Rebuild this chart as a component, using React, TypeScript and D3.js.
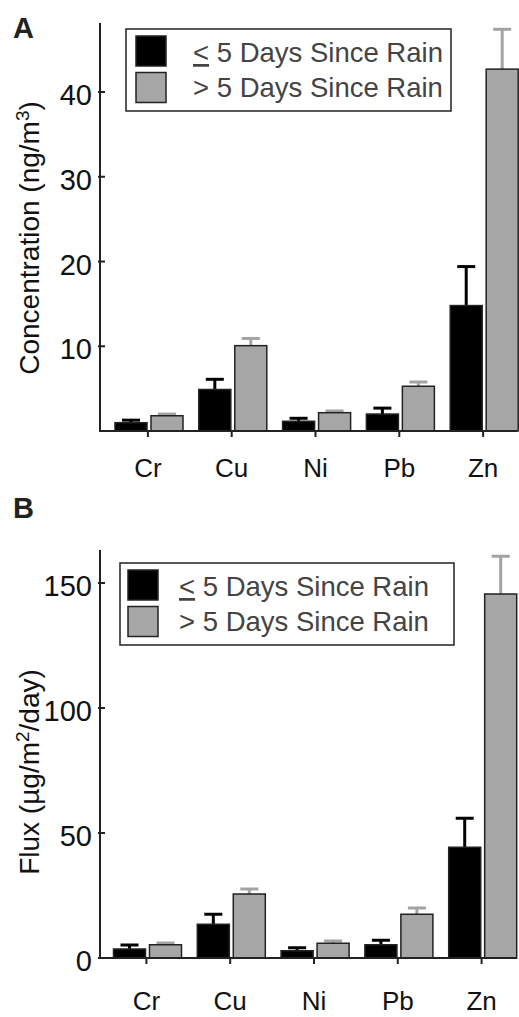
import * as d3 from "d3";

const categories = ["Cr", "Cu", "Ni", "Pb", "Zn"];
const seriesKeys = ["dry", "wet"];
const legendLabels = ["5 Days Since Rain", "> 5 Days Since Rain"];

// panel A: concentration (ng/m3)
const concDry = [0.98, 4.9, 1.15, 2.0, 14.8];
const concDryErr = [0.3, 1.2, 0.35, 0.7, 4.6];
const concWet = [1.8, 10.07, 2.16, 5.28, 42.7];
const concWetErr = [0.2, 0.85, 0.2, 0.5, 4.7];
const concTicks = [10, 20, 30, 40];

// panel B: flux (ug/m2/day)
const fluxDry = [3.6, 13.5, 2.9, 5.3, 44.3];
const fluxDryErr = [1.6, 4.0, 1.2, 1.8, 11.6];
const fluxWet = [5.3, 25.6, 5.9, 17.5, 145.6];
const fluxWetErr = [0.7, 2.0, 0.9, 2.5, 15.1];
const fluxTicks = [0, 50, 100, 150];

const FONT = "'Liberation Sans', Arial, sans-serif";
const colors = { dry: "#000000", wet: "#a6a6a6" };
const errColors = { dry: "#000000", wet: "#a3a3a3" };

function Panel({
  letter,
  letterY,
  dry,
  dryErr,
  wet,
  wetErr,
  yDomain,
  yRange,
  axisTop,
  ticks,
  xRange,
  yLabel,
  yLabelY,
  catLabelY,
  legend,
}) {
  const y = d3.scaleLinear(yDomain, yRange);
  const x = d3.scaleBand(categories, xRange);
  const inner = d3.scaleBand(seriesKeys, [9, 77]).paddingInner(0.11);
  const base = y(0);
  const axisX = 100;
  const xEnd = 517;
  const vals = { dry, wet };
  const errs = { dry: dryErr, wet: wetErr };

  return (
    <g>
      <text x={13} y={letterY} fontFamily={FONT} fontWeight="bold" fontSize={29} fill="#222">
        {letter}
      </text>

      {/* bars */}
      {seriesKeys.map((k) =>
        categories.map((c, i) => {
          const bx = x(c) + inner(k);
          const top = y(vals[k][i]);
          const cap = y(vals[k][i] + errs[k][i]);
          const cx = bx + inner.bandwidth() / 2;
          return (
            <g key={k + c}>
              <line x1={cx} x2={cx} y1={top} y2={cap} stroke={errColors[k]} strokeWidth={3} />
              <line x1={cx - 9} x2={cx + 9} y1={cap} y2={cap} stroke={errColors[k]} strokeWidth={3} />
              <rect
                x={bx}
                y={top}
                width={inner.bandwidth()}
                height={base - top}
                fill={colors[k]}
                stroke="#222"
                strokeWidth={1.5}
              />
            </g>
          );
        })
      )}

      {/* y axis */}
      <line x1={axisX} x2={axisX} y1={axisTop} y2={base + 1} stroke="#222" strokeWidth={2} />
      {ticks.map((t) => (
        <g key={t}>
          <line x1={axisX - 2} x2={axisX + 5} y1={y(t)} y2={y(t)} stroke="#222" strokeWidth={2} />
          <text
            x={axisX - 8}
            y={y(t) + 13}
            textAnchor="end"
            fontFamily={FONT}
            fontSize={29}
            fill="#111"
          >
            {t}
          </text>
        </g>
      ))}

      {/* x axis */}
      <line x1={axisX} x2={xEnd} y1={base} y2={base} stroke="#222" strokeWidth={2} />
      {categories.map((c) => {
        const cx = x(c) + x.bandwidth() / 2;
        return (
          <g key={c}>
            <line x1={cx} x2={cx} y1={base} y2={base + 6} stroke="#222" strokeWidth={2} />
            <text x={cx} y={catLabelY} textAnchor="middle" fontFamily={FONT} fontSize={26} fill="#111">
              {c}
            </text>
          </g>
        );
      })}

      {/* y label */}
      <text
        transform={`translate(39,${yLabelY}) rotate(-90)`}
        textAnchor="middle"
        fontFamily={FONT}
        fontSize={28}
        fill="#111"
      >
        {yLabel}
      </text>

      {/* legend */}
      <rect
        x={legend.x}
        y={legend.y}
        width={legend.w}
        height={legend.h}
        fill="#fff"
        stroke="#222"
        strokeWidth={1.5}
      />
      {seriesKeys.map((k, i) => (
        <g key={k}>
          <rect
            x={legend.sx}
            y={legend.y + 7 + i * 36.5}
            width={30}
            height={30}
            fill={colors[k]}
            stroke="#222"
            strokeWidth={1.5}
          />
          <text
            x={legend.tx}
            y={legend.y + 33 + i * 35}
            fontFamily={FONT}
            fontSize={27.5}
            fill="#444"
          >
            {i === 0 ? (
              <>
                <tspan textDecoration="underline">{"<"}</tspan>
                {" " + legendLabels[0]}
              </>
            ) : (
              legendLabels[1]
            )}
          </text>
        </g>
      ))}
    </g>
  );
}

export default function App() {
  return (
    <svg
      width={519}
      height={1017}
      style={{ position: "absolute", left: 0, top: 0, background: "#fff" }}
    >
      <rect width={519} height={1017} fill="#fff" />
      <Panel
        letter="A"
        letterY={38}
        dry={concDry}
        dryErr={concDryErr}
        wet={concWet}
        wetErr={concWetErr}
        yDomain={[0, 40]}
        yRange={[431, 92]}
        axisTop={23}
        ticks={concTicks}
        xRange={[106, 525]}
        yLabel={
          <>
            Concentration (ng/m<tspan baselineShift="super" fontSize={19}>3</tspan>)
          </>
        }
        yLabelY={238}
        catLabelY={477}
        legend={{ x: 126, y: 29, w: 325, h: 82, sx: 136, tx: 193 }}
      />
      <Panel
        letter="B"
        letterY={518}
        dry={fluxDry}
        dryErr={fluxDryErr}
        wet={fluxWet}
        wetErr={fluxWetErr}
        yDomain={[0, 150]}
        yRange={[958, 583]}
        axisTop={550}
        ticks={fluxTicks}
        xRange={[104.5, 523.5]}
        yLabel={
          <>
            Flux (µg/m<tspan baselineShift="super" fontSize={19}>2</tspan>/day)
          </>
        }
        yLabelY={772}
        catLabelY={1010}
        legend={{ x: 120, y: 563, w: 334, h: 82, sx: 128, tx: 179 }}
      />
    </svg>
  );
}
